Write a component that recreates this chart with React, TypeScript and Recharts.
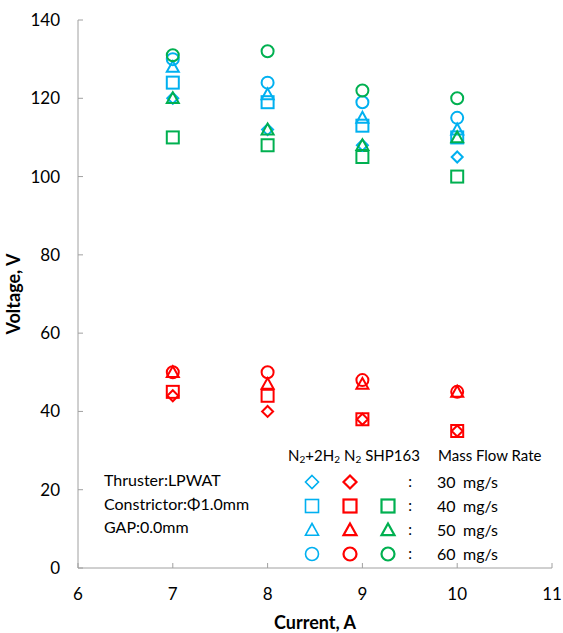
import React from 'react'
import { ScatterChart, Scatter, XAxis, YAxis } from 'recharts'

const currents = [7, 8, 9, 10]
const xTicks = [6, 7, 8, 9, 10, 11]
const yTicks = [0, 20, 40, 60, 80, 100, 120, 140]

// N2+2H2
const h2Diamond = [120, 112, 108, 105]
const h2Square = [124, 119, 113, 110]
const h2Triangle = [128, 121, 115, 112]
const h2Circle = [130, 124, 119, 115]
// N2
const n2Diamond = [44, 40, 38, 35]
const n2Square = [45, 44, 38, 35]
const n2Triangle = [50, 47, 47, 45]
const n2Circle = [50, 50, 48, 45]
// SHP163
const shpSquare = [110, 108, 105, 100]
const shpTriangle = [120, 112, 108, 110]
const shpCircle = [131, 132, 122, 120]

const flowRates = ['30', '40', '50', '60']

const BLUE = '#00B0F0'
const RED = '#FF0000'
const GREEN = '#00B050'
const AXIS = '#A0A0A0'
const FONT = 'Lato, "Open Sans", sans-serif'

type Kind = 'diamond' | 'square' | 'triangle' | 'circle'

function Marker({ kind, cx, cy, color, size = 12, sw = 2 }: { kind: Kind; cx: number; cy: number; color: string; size?: number; sw?: number }) {
  const r = size / 2
  const common = { fill: 'none', stroke: color, strokeWidth: sw }
  if (kind === 'circle') return <circle cx={cx} cy={cy} r={r} {...common} />
  if (kind === 'square') return <rect x={cx - r} y={cy - r} width={size} height={size} {...common} />
  if (kind === 'triangle')
    return <polygon points={`${cx},${cy - r} ${cx + r},${cy + r * 0.8} ${cx - r},${cy + r * 0.8}`} {...common} />
  return <polygon points={`${cx},${cy - r} ${cx + r},${cy} ${cx},${cy + r} ${cx - r},${cy}`} {...common} />
}

const shapeOf = (kind: Kind, color: string) => (props: any) => {
  const { cx, cy } = props
  if (cx == null || cy == null) return <g />
  return <Marker kind={kind} cx={cx} cy={cy} color={color} size={kind === 'diamond' ? 11 : 12} />
}

const toPoints = (vals: number[]) => vals.map((v, i) => ({ x: currents[i], y: v }))

const series: { name: string; kind: Kind; color: string; values: number[] }[] = [
  { name: 'N2 30', kind: 'diamond', color: RED, values: n2Diamond },
  { name: 'N2 40', kind: 'square', color: RED, values: n2Square },
  { name: 'N2 50', kind: 'triangle', color: RED, values: n2Triangle },
  { name: 'N2 60', kind: 'circle', color: RED, values: n2Circle },
  { name: 'SHP163 40', kind: 'square', color: GREEN, values: shpSquare },
  { name: 'N2+2H2 30', kind: 'diamond', color: BLUE, values: h2Diamond },
  { name: 'N2+2H2 40', kind: 'square', color: BLUE, values: h2Square },
  { name: 'N2+2H2 50', kind: 'triangle', color: BLUE, values: h2Triangle },
  { name: 'N2+2H2 60', kind: 'circle', color: BLUE, values: h2Circle },
  { name: 'SHP163 50', kind: 'triangle', color: GREEN, values: shpTriangle },
  { name: 'SHP163 60', kind: 'circle', color: GREEN, values: shpCircle },
]

const legendRows: { kind: Kind; cols: string[] }[] = [
  { kind: 'diamond', cols: [BLUE, RED] },
  { kind: 'square', cols: [BLUE, RED, GREEN] },
  { kind: 'triangle', cols: [BLUE, RED, GREEN] },
  { kind: 'circle', cols: [BLUE, RED, GREEN] },
]

const Sub = ({ children }: { children: string }) => (
  <tspan fontSize={10} dy={2}>{children}</tspan>
)

function Overlay() {
  const colX = [312, 350, 388]
  const rowY = [482, 506, 530, 554]
  return (
    <svg width={563} height={633} style={{ position: 'absolute', left: 0, top: 0, pointerEvents: 'none' }}>
      <g fontFamily={FONT} fill="#000">
        <text x={288} y={461} fontSize={15}>
          N<Sub>2</Sub><tspan dy={-2}>+2H</tspan><Sub>2</Sub>
          <tspan dy={-2} dx={4}>N</tspan><Sub>2</Sub>
          <tspan dy={-2} dx={4}>SHP163</tspan>
        </text>
        <text x={438} y={461} fontSize={15}>Mass Flow Rate</text>
        {legendRows.map((row, i) => (
          <g key={i}>
            {row.cols.map((c, j) => (
              <Marker key={j} kind={row.kind} cx={colX[j]} cy={rowY[i]} color={c} size={13} sw={j === 0 ? 1.6 : 2.2} />
            ))}
            <text x={410} y={rowY[i] + 5} fontSize={15} textAnchor="middle">:</text>
            <text x={437} y={rowY[i] + 6} fontSize={16}>{flowRates[i]}</text>
            <text x={463} y={rowY[i] + 6} fontSize={16}>mg/s</text>
          </g>
        ))}
        <text x={104} y={486} fontSize={16}>Thruster:LPWAT</text>
        <text x={104} y={510} fontSize={16}>Constrictor:Φ1.0mm</text>
        <text x={104} y={533} fontSize={16}>GAP:0.0mm</text>
      </g>
    </svg>
  )
}

export default function App() {
  return (
    <div style={{ position: 'absolute', left: 0, top: 0, width: 563, height: 633, background: '#fff' }}>
      <ScatterChart width={563} height={633} margin={{ top: 20, right: 11, bottom: 0, left: 0 }}>
        <XAxis
          dataKey="x"
          type="number"
          domain={[6, 11]}
          ticks={xTicks}
          allowDataOverflow
          height={65}
          stroke={AXIS}
          tickSize={-5}
          tickMargin={25}
          tick={{ fill: '#000', fontSize: 17, fontFamily: FONT }}
          label={{ value: 'Current, A', position: 'insideBottom', offset: 4, style: { fontSize: 18, fontWeight: 700, fontFamily: FONT, fill: '#000' } }}
        />
        <XAxis
          xAxisId="top"
          orientation="top"
          type="number"
          domain={[6, 11]}
          ticks={xTicks}
          allowDataOverflow
          height={0}
          stroke={AXIS}
          tickSize={-5}
          tickFormatter={() => ''}
        />
        <YAxis
          dataKey="y"
          type="number"
          domain={[0, 140]}
          ticks={yTicks}
          allowDataOverflow
          width={78}
          stroke={AXIS}
          tickSize={-5}
          tickMargin={23}
          tick={{ fill: '#000', fontSize: 17, fontFamily: FONT }}
          label={{ value: 'Voltage, V', angle: -90, position: 'insideLeft', offset: 14, style: { textAnchor: 'middle', fontSize: 18, fontWeight: 700, fontFamily: FONT, fill: '#000' } }}
        />
        <YAxis
          yAxisId="right"
          orientation="right"
          type="number"
          domain={[0, 140]}
          ticks={yTicks}
          allowDataOverflow
          width={0}
          stroke={AXIS}
          tickSize={-5}
          tickFormatter={() => ''}
        />
        {series.map((s) => (
          <Scatter
            key={s.name}
            name={s.name}
            data={toPoints(s.values)}
            dataKey="y"
            shape={shapeOf(s.kind, s.color)}
            isAnimationActive={false}
          />
        ))}
      </ScatterChart>
      <Overlay />
    </div>
  )
}
